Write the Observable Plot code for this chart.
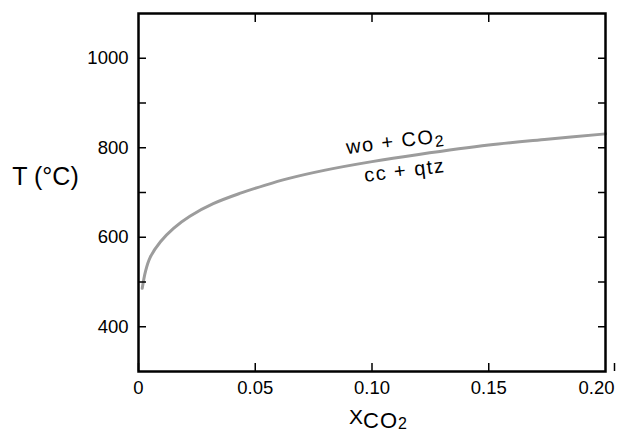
<!DOCTYPE html>
<html>
<head>
<meta charset="utf-8">
<script src="https://cdn.jsdelivr.net/npm/d3@7"></script>
<script src="https://cdn.jsdelivr.net/npm/@observablehq/plot@0.6"></script>
<style>
  html, body { margin: 0; padding: 0; background: white; }
  svg text { font-family: "Liberation Sans", Arial, sans-serif; }
</style>
</head>
<body>
<div id="chart"></div>
<script>
// Curve: wo + CO2 = cc + qtz equilibrium
const xco2 = [0.0016, 0.003, 0.005, 0.0094, 0.015, 0.022, 0.032, 0.044, 0.054, 0.064, 0.08, 0.10, 0.12, 0.15, 0.175, 0.20];
const tempC = [486, 524, 555, 590, 620, 647, 675, 699, 716, 731, 750, 769, 785, 806, 819, 831];

const xTicksLeft = [0, 0.05, 0.10, 0.15];
const xTickLast = [0.20];
const xInnerTicks = [0.05, 0.10, 0.15];
const yTicks = [400, 500, 600, 700, 800, 900, 1000];
const yLabelled = [400, 600, 800, 1000];

const curveLabels = ["wo + CO2", "cc + qtz"];
const curveLabelX = [0.110, 0.114];
const curveLabelT = [814, 749];

const yTitle = "T (°C)";
const xTitle = "XCO2";

const data = xco2.map((x, i) => ({x, t: tempC[i]}));
const labels = curveLabels.map((s, i) => ({s, x: curveLabelX[i], t: curveLabelT[i]}));

const fmtX = d => d === 0 ? "0" : d3.format(".2f")(d);

const chart = Plot.plot({
  width: 617,
  height: 432,
  marginLeft: 138,
  marginRight: 12,
  marginTop: 13,
  marginBottom: 61,
  x: {domain: [0, 0.2]},
  y: {domain: [300, 1100]},
  style: {fontFamily: "'Liberation Sans', Arial, sans-serif", fontSize: "18px", background: "white", color: "black"},
  marks: [
    Plot.line(data, {x: "x", y: "t", stroke: "#9c9c9c", strokeWidth: 3, curve: "catmull-rom"}),
    Plot.axisY(yTicks, {anchor: "left", tickSize: -8, tickPadding: 18, strokeWidth: 1.5, tickFormat: d => yLabelled.includes(d) ? String(d) : "", label: null, fontSize: 18.5}),
    Plot.axisY(yTicks, {anchor: "right", tickSize: -8, strokeWidth: 1.5, tickFormat: () => "", label: null}),
    Plot.axisX(xTicksLeft, {anchor: "bottom", tickSize: -8, tickPadding: 17, strokeWidth: 1.5, tickFormat: fmtX, label: null, fontSize: 18.5}),
    Plot.axisX(xTickLast, {anchor: "bottom", tickSize: -8, tickPadding: 17, strokeWidth: 1.5, tickFormat: fmtX, label: null, fontSize: 18.5, textAnchor: "end", dx: 9}),
    Plot.axisX(xInnerTicks, {anchor: "top", tickSize: -8, strokeWidth: 1.5, tickFormat: () => "", label: null}),
    Plot.frame({stroke: "black", strokeWidth: 2.5}),
    Plot.text(labels, {x: "x", y: "t", text: "s", rotate: -7, fontSize: 20, textAnchor: "middle", lineAnchor: "middle"}),
    Plot.text([yTitle], {frameAnchor: "left", text: d => d, dx: -93, dy: -16, fontSize: 25, textAnchor: "middle", lineAnchor: "middle"}),
    Plot.text([xTitle], {frameAnchor: "bottom", text: d => d, dx: 6, dy: 52, fontSize: 21, textAnchor: "middle", lineAnchor: "bottom"})
  ]
});

document.getElementById("chart").appendChild(chart);

// Typeset subscripts and letter spacing
d3.select(chart).selectAll("text").each(function() {
  const el = d3.select(this);
  const txt = this.textContent;
  if (txt === "wo + CO2") {
    el.text(null).style("letter-spacing", "1.5px");
    el.append("tspan").text("wo + CO");
    el.append("tspan").attr("dy", 4).attr("font-size", 16).text("2");
  } else if (txt === "cc + qtz") {
    el.style("letter-spacing", "1.5px");
  } else if (txt === "XCO2") {
    el.text(null);
    el.append("tspan").text("X");
    el.append("tspan").attr("dy", 4).attr("font-size", 22).style("letter-spacing", "1px").text("CO");
    el.append("tspan").attr("dy", 1.5).attr("font-size", 16).text("2");
  }
});
</script>
</body>
</html>
